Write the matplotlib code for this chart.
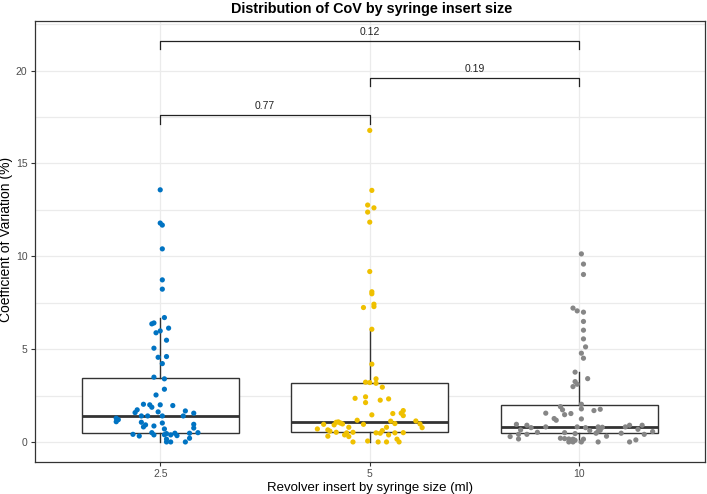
import matplotlib
matplotlib.use('Agg')
import matplotlib.pyplot as plt
import numpy as np

plt.rcParams['font.family'] = ['Liberation Sans', 'DejaVu Sans']

# groups
sizes = ['2.5', '5', '10']
colors = ['#0073C2', '#EFC000', '#868686']

# CoV values (%), with the horizontal spread of each dot
cov_25 = [13.58, 11.79, 11.68, 10.40, 8.73, 8.23, 6.70, 6.41, 6.36, 6.13,
          5.98, 5.88, 5.48, 5.05, 4.60, 4.56, 4.22, 3.49, 3.40, 2.84,
          2.53, 2.03, 2.00, 1.87, 2.00, 1.96, 1.58, 1.73, 1.62, 1.67,
          1.55, 1.40, 1.40, 1.40, 1.40, 1.09, 1.20, 1.28, 1.06, 0.92,
          0.81, 1.02, 0.86, 0.95, 0.75, 0.41, 0.32, 0.50, 0.38, 0.70,
          0.39, 0.45, 0.38, 0.47, 0.34, 0.47, 0.50, 0.00, 0.00, 0.00,
          0.20, 0.15]
jit_25 = [0.00, 0.00, 0.01, 0.01, 0.01, 0.01, 0.02, -0.03, -0.04, 0.04,
          0.00, -0.02, 0.03, -0.03, 0.03, -0.01, 0.01, -0.03, 0.02, 0.02,
          -0.02, -0.08, -0.05, -0.04, 0.00, 0.06, -0.12, -0.11, -0.01, 0.12,
          0.16, 0.11, -0.09, -0.06, 0.01, -0.21, -0.20, -0.21, -0.09, -0.07,
          -0.08, 0.01, -0.03, 0.16, 0.16, -0.13, -0.10, -0.04, -0.03, 0.02,
          0.02, 0.03, 0.05, 0.07, 0.08, 0.14, 0.18, 0.03, 0.05, 0.12,
          0.14, 0.03]

cov_5 = [16.78, 13.55, 12.76, 12.61, 12.38, 11.84, 9.18, 8.09, 7.98, 7.42,
         7.29, 7.24, 6.07, 4.19, 3.22, 3.20, 3.40, 3.16, 2.95, 2.35,
         2.43, 2.12, 2.25, 2.32, 1.46, 1.53, 1.69, 1.55, 1.42, 1.17,
         1.08, 1.02, 1.06, 0.92, 0.95, 0.97, 1.12, 0.99, 1.13, 0.97,
         0.77, 0.95, 0.70, 0.65, 0.58, 0.79, 0.79, 0.61, 0.52, 0.49,
         0.52, 0.49, 0.47, 0.49, 0.50, 0.31, 0.38, 0.29, 0.38, 0.00,
         0.05, 0.00, 0.00, 0.15, 0.00]
jit_5 = [0.00, 0.01, -0.01, 0.02, -0.01, 0.00, 0.00, 0.01, 0.01, 0.02,
         0.02, -0.03, 0.01, 0.01, -0.02, 0.00, 0.03, 0.03, 0.06, -0.07,
         -0.02, -0.02, 0.05, 0.09, 0.01, 0.11, 0.16, 0.15, 0.16, -0.06,
         -0.15, -0.14, -0.16, -0.17, -0.22, -0.13, 0.10, 0.12, 0.22, 0.24,
         0.25, -0.03, -0.25, -0.20, -0.19, -0.10, 0.08, 0.06, -0.16, -0.11,
         -0.08, 0.03, 0.05, 0.12, 0.16, -0.20, -0.12, -0.10, 0.09, -0.08,
         -0.01, 0.04, 0.08, 0.13, 0.14]

cov_10 = [10.13, 9.58, 9.02, 7.21, 7.06, 6.99, 6.49, 6.02, 5.55, 5.12,
          4.78, 4.51, 3.76, 3.25, 3.11, 2.98, 3.41, 2.03, 1.78, 1.90,
          1.73, 1.47, 1.53, 1.55, 1.26, 1.17, 1.24, 1.69, 1.76, 0.95,
          0.90, 0.77, 0.81, 0.81, 0.77, 0.81, 0.79, 0.81, 0.90, 0.90,
          0.68, 0.65, 0.52, 0.41, 0.41, 0.50, 0.45, 0.61, 0.47, 0.63,
          0.47, 0.41, 0.56, 0.58, 0.29, 0.16, 0.31, 0.20, 0.18, 0.16,
          0.15, 0.09, 0.15, 0.00, 0.00, 0.00, 0.00, 0.11, 0.00]
jit_10 = [0.01, 0.02, 0.02, -0.03, -0.01, 0.02, 0.02, 0.02, 0.02, 0.03,
          0.01, 0.02, -0.02, -0.02, -0.01, -0.03, 0.04, 0.01, 0.01, -0.09,
          -0.08, -0.07, -0.04, -0.16, -0.12, -0.11, 0.01, 0.07, 0.10, -0.30,
          -0.25, -0.23, -0.16, -0.01, 0.03, 0.09, 0.11, 0.22, 0.24, 0.30,
          0.28, -0.28, -0.20, -0.25, -0.29, -0.07, -0.02, 0.05, 0.08, 0.10,
          0.20, 0.31, 0.35, 0.09, -0.33, -0.29, 0.13, -0.09, -0.07, -0.05,
          -0.03, -0.02, 0.02, -0.05, 0.01, 0.09, 0.24, 0.27, -0.03]

# box statistics
whislo = [0.00, 0.00, 0.00]
q1 = [0.47, 0.56, 0.49]
med = [1.40, 1.06, 0.81]
q3 = [3.47, 3.16, 2.01]
whishi = [6.70, 6.07, 3.76]

# pairwise p values: (group a, group b, bracket height, label)
pairs = [(0, 1, 17.6, '0.77'), (1, 2, 19.6, '0.19'), (0, 2, 21.6, '0.12')]

groups = [(cov_25, jit_25), (cov_5, jit_5), (cov_10, jit_10)]

fig = plt.figure(figsize=(7.07, 4.94), dpi=100)
ax = fig.add_axes([34.5 / 707, 32 / 494, 670.5 / 707, 441.5 / 494])

ax.set_xlim(0.4, 3.6)
ax.set_ylim(-1.08, 22.7)

# grid
for y in np.arange(0, 22.6, 2.5):
    ax.axhline(y, color='#EBEBEB', lw=0.9, zorder=0)
for x in range(1, 4):
    ax.axvline(x, color='#EBEBEB', lw=0.9, zorder=0)

stats = []
for i in range(3):
    stats.append(dict(whislo=whislo[i], q1=q1[i], med=med[i], q3=q3[i],
                      whishi=whishi[i], fliers=[]))
ax.bxp(stats, positions=[1, 2, 3], widths=0.75, patch_artist=True,
       showcaps=False, showfliers=False,
       boxprops=dict(facecolor='white', edgecolor='#333333', lw=1.0),
       whiskerprops=dict(color='#333333', lw=1.0),
       medianprops=dict(color='#333333', lw=2.0),
       manage_ticks=False, zorder=2)

for i, (vals, jit) in enumerate(groups):
    xs = [i + 1 + j for j in jit]
    ax.scatter(xs, vals, s=14, color=colors[i], edgecolors='none', zorder=3)

# significance brackets
for a, b, h, lab in pairs:
    ax.plot([a + 1, a + 1, b + 1, b + 1], [h - 0.45, h, h, h - 0.45],
            color='#222222', lw=0.9, zorder=4)
    ax.text((a + b) / 2 + 1, h + 0.2, lab, ha='center', va='bottom',
            fontsize=7.5, color='#222222')

ax.set_xticks([1, 2, 3])
ax.set_xticklabels(sizes)
ax.set_yticks([0, 5, 10, 15, 20])
ax.tick_params(length=3, width=0.8, color='#333333', labelcolor='#4D4D4D',
               labelsize=7.5, pad=2)
for s in ax.spines.values():
    s.set_color('#333333')
    s.set_linewidth(0.9)

ax.set_xlabel('Revolver insert by syringe size (ml)', fontsize=9.5, labelpad=2)
ax.set_ylabel('Coefficient of Variation (%)', fontsize=10)
ax.yaxis.set_label_coords(-0.032, 0.505)
fig.text(372 / 707, 1 - 9 / 494, 'Distribution of CoV by syringe insert size',
         ha='center', va='center', fontsize=10.4, fontweight='bold')

fig.savefig('out.png', dpi=100)
